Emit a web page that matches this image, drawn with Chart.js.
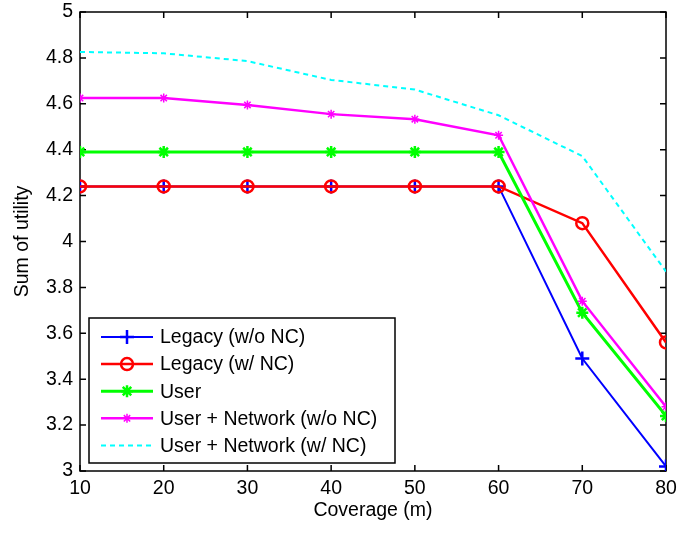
<!DOCTYPE html>
<html>
<head>
<meta charset="utf-8">
<script src="https://cdn.jsdelivr.net/npm/chart.js@4.4.1/dist/chart.umd.min.js"></script>
<style>
    html, body { margin: 0; padding: 0; background: #fff; }
    #wrap { width: 680px; height: 537px; }
</style>
</head>
<body>
<div id="wrap"><canvas id="utilityChart" width="680" height="537"></canvas></div>
<script>
// Chart data
const coverage = [10, 20, 30, 40, 50, 60, 70, 80];
const legacyNoNC = [4.24, 4.24, 4.24, 4.24, 4.24, 4.24, 3.49, 3.02];
const legacyNC = [4.24, 4.24, 4.24, 4.24, 4.24, 4.24, 4.08, 3.56];
const userOnly = [4.39, 4.39, 4.39, 4.39, 4.39, 4.39, 3.69, 3.24];
const userNetNoNC = [4.625, 4.625, 4.595, 4.555, 4.533, 4.463, 3.74, 3.28];
const userNetNC = [4.826, 4.82, 4.786, 4.704, 4.662, 4.55, 4.372, 3.869];
const seriesNames = ['Legacy (w/o NC)', 'Legacy (w/ NC)', 'User', 'User + Network (w/o NC)', 'User + Network (w/ NC)'];
const yTicks = [3, 3.2, 3.4, 3.6, 3.8, 4, 4.2, 4.4, 4.6, 4.8, 5];

const fontFamily = '"Liberation Sans", Arial, sans-serif';
Chart.defaults.font.family = fontFamily;
Chart.defaults.color = '#000';

function toPoints(values) {
    return coverage.map(function(x, i) { return { x: x, y: values[i] }; });
}

// Frame with inward ticks on all four sides (matlab style box)
const framePlugin = {
    id: 'frame',
    beforeDatasetsDraw(chart) {
        const ctx = chart.ctx;
        const a = chart.chartArea;
        const xs = chart.scales.x;
        const ys = chart.scales.y;
        const len = 6;
        ctx.save();
        ctx.strokeStyle = '#000';
        ctx.lineWidth = 1.5;
        ctx.strokeRect(a.left, a.top, a.right - a.left, a.bottom - a.top);
        ctx.beginPath();
        coverage.forEach(function(v) {
            const px = xs.getPixelForValue(v);
            ctx.moveTo(px, a.bottom); ctx.lineTo(px, a.bottom - len);
            ctx.moveTo(px, a.top); ctx.lineTo(px, a.top + len);
        });
        yTicks.forEach(function(v) {
            const py = ys.getPixelForValue(v);
            ctx.moveTo(a.left, py); ctx.lineTo(a.left + len, py);
            ctx.moveTo(a.right, py); ctx.lineTo(a.right - len, py);
        });
        ctx.stroke();
        ctx.restore();
    }
};

// Legend box inside the plot, lower left corner
const insideLegend = {
    id: 'insideLegend',
    afterDatasetsDraw(chart) {
        const ctx = chart.ctx;
        const a = chart.chartArea;
        const boxLeft = a.left + 9;
        const boxRight = a.left + 315;
        const boxBottom = a.bottom - 8;
        const rowH = 27.1;
        const boxTop = boxBottom - 145;
        ctx.save();
        ctx.fillStyle = '#fff';
        ctx.fillRect(boxLeft, boxTop, boxRight - boxLeft, boxBottom - boxTop);
        ctx.strokeStyle = '#000';
        ctx.lineWidth = 1.5;
        ctx.strokeRect(boxLeft, boxTop, boxRight - boxLeft, boxBottom - boxTop);

        chart.data.datasets.forEach(function(ds, i) {
            const y = boxTop + 19 + i * rowH;
            const x0 = boxLeft + 12;
            const x1 = boxLeft + 64;
            ctx.save();
            ctx.strokeStyle = ds.borderColor;
            ctx.lineWidth = ds.borderWidth;
            ctx.setLineDash(ds.borderDash || []);
            ctx.beginPath();
            ctx.moveTo(x0, y);
            ctx.lineTo(x1, y);
            ctx.stroke();
            ctx.restore();
            if (ds.pointRadius > 0) {
                ctx.save();
                ctx.strokeStyle = ds.pointBorderColor;
                ctx.fillStyle = ds.pointBackgroundColor;
                ctx.lineWidth = ds.pointBorderWidth;
                Chart.helpers.drawPoint(ctx, {
                    pointStyle: ds.pointStyle,
                    rotation: 0,
                    radius: ds.pointRadius,
                    borderWidth: ds.pointBorderWidth
                }, (x0 + x1) / 2, y);
                ctx.restore();
            }
            ctx.fillStyle = '#000';
            ctx.font = '19.5px ' + fontFamily;
            ctx.textBaseline = 'middle';
            ctx.textAlign = 'left';
            ctx.fillText(ds.label, boxLeft + 71, y + 1);
        });
        ctx.restore();
    }
};

function makeSet(label, values, color, style, radius, width, pointWidth, order) {
    return {
        label: label,
        data: toPoints(values),
        borderColor: color,
        borderWidth: width,
        pointStyle: style,
        pointRadius: radius,
        pointBorderWidth: pointWidth,
        pointBorderColor: color,
        pointBackgroundColor: 'rgba(0,0,0,0)',
        pointHoverRadius: radius,
        tension: 0,
        fill: false,
        order: order
    };
}

const datasets = [
    makeSet(seriesNames[0], legacyNoNC, '#0000ff', 'cross', 7, 2, 2.5, 5),
    makeSet(seriesNames[1], legacyNC, '#ff0000', 'circle', 6, 2.5, 2.5, 4),
    makeSet(seriesNames[2], userOnly, '#00ff00', 'star', 6, 3, 2.5, 3),
    makeSet(seriesNames[3], userNetNoNC, '#ff00ff', 'star', 4.5, 2.5, 1.5, 2),
    makeSet(seriesNames[4], userNetNC, '#00ffff', false, 0, 2, 0, 1)
];
datasets[4].borderDash = [5, 4];

new Chart(document.getElementById('utilityChart'), {
    type: 'line',
    data: { datasets: datasets },
    options: {
        responsive: false,
        maintainAspectRatio: false,
        animation: false,
        devicePixelRatio: 1,
        layout: { padding: { top: 12, right: 14, left: 0, bottom: 0 } },
        plugins: {
            legend: { display: false },
            tooltip: { enabled: false }
        },
        scales: {
            x: {
                type: 'linear',
                min: 10,
                max: 80,
                afterBuildTicks: function(scale) {
                    scale.ticks = coverage.map(function(v) { return { value: v }; });
                },
                afterFit: function(scale) {
                    scale.height = 66;
                    scale.paddingLeft = 0;
                    scale.paddingRight = 0;
                },
                grid: { display: false, drawTicks: false },
                border: { display: false },
                ticks: { font: { size: 19.5 }, padding: 6, maxRotation: 0 },
                title: {
                    display: true,
                    text: 'Coverage (m)',
                    font: { size: 19.5 },
                    padding: { top: 0, bottom: 15 }
                }
            },
            y: {
                type: 'linear',
                min: 3,
                max: 5,
                afterBuildTicks: function(scale) {
                    scale.ticks = yTicks.map(function(v) { return { value: v }; });
                },
                afterFit: function(scale) {
                    scale.width = 80;
                    scale.paddingTop = 0;
                    scale.paddingBottom = 0;
                },
                grid: { display: false, drawTicks: false },
                border: { display: false },
                ticks: {
                    font: { size: 19.5 },
                    padding: 7,
                    callback: function(v) { return String(Math.round(v * 10) / 10); }
                },
                title: {
                    display: true,
                    text: 'Sum of utility',
                    font: { size: 19.5 },
                    padding: { top: 11, bottom: 0 }
                }
            }
        }
    },
    plugins: [framePlugin, insideLegend]
});
</script>
</body>
</html>
